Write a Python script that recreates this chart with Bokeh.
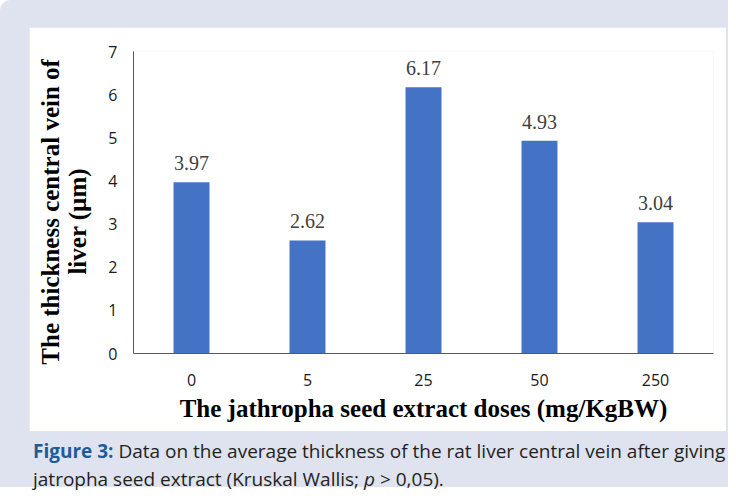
from bokeh.plotting import figure
from bokeh.models import ColumnDataSource, Range1d, FixedTicker, Div
from bokeh.layouts import column
from bokeh.core.properties import value
from bokeh.embed import file_html
from bokeh.resources import INLINE

doses = ["0", "5", "25", "50", "250"]
thickness = [3.97, 2.62, 6.17, 4.93, 3.04]
labels = ["3.97", "2.62", "6.17", "4.93", "3.04"]
y_ticks = [0, 1, 2, 3, 4, 5, 6, 7]

PANEL = "#dfe3ef"
BAR = "#4472c4"

src = ColumnDataSource(dict(dose=doses, val=thickness, lab=labels))

p = figure(x_range=doses, y_range=Range1d(0, 7), width=697, height=404,
           output_backend="svg", toolbar_location=None,
           min_border_left=104, min_border_right=13,
           min_border_top=24, min_border_bottom=78)
p.x_range.range_padding = 0
p.background_fill_color = "white"
p.border_fill_color = "white"
p.outline_line_color = None
p.xgrid.grid_line_color = None
p.ygrid.grid_line_color = None

p.vbar(x="dose", top="val", width=0.31, source=src, color=BAR, line_color=None)
p.text(x="dose", y="val", text="lab", source=src, y_offset=-19,
       text_align="center", text_baseline="alphabetic",
       text_font=value("Times New Roman"), text_font_size="20px",
       text_color="#404040")

for ax in (p.xaxis[0], p.yaxis[0]):
    ax.axis_line_color = "#595959"
    ax.major_tick_line_color = None
    ax.minor_tick_line_color = None
    ax.major_label_text_font = "Open Sans"
    ax.major_label_text_font_size = "16px"
    ax.major_label_text_color = "#1a1a1a"
    ax.axis_label_text_font = "Liberation Serif"
    ax.axis_label_text_font_style = "bold"
    ax.axis_label_text_font_size = "25px"
    ax.axis_label_text_color = "black"
    ax.axis_label_text_line_height = 1.0

p.yaxis.ticker = FixedTicker(ticks=y_ticks)
p.yaxis.major_label_standoff = 10
p.xaxis.major_label_standoff = 14
p.yaxis.axis_label = ("The thickness central vein of" + "\u00a0" * 3 + "\n"
                      + "liver (\u00b5m)" + "\u00a0" * 6)
p.xaxis.axis_label = "The jathropha seed extract doses (mg/KgBW)"
p.yaxis.axis_label_standoff = 14
p.xaxis.axis_label_standoff = 6
p.margin = (0, 0, 0, 0)

cap = Div(text='<span style="color:#1d5c9a;font-weight:bold">Figure 3:</span> '
               'Data on the average thickness of the rat liver central vein after giving<br>'
               'jatropha seed extract (Kruskal Wallis; <i>p</i> &gt; 0,05).',
          width=697, height=56, margin=(0, 0, 0, 0),
          styles={"font-family": "Open Sans", "font-size": "19px",
                  "line-height": "28px", "color": "#231f20", "white-space": "nowrap",
                  "padding-top": "6px", "padding-left": "4px"})

layout = column(p, cap, margin=(0, 0, 0, 0),
                styles={"background-color": PANEL, "border-top-left-radius": "10px",
                        "padding": "27px 2px 0px 29px"})

open("out.html", "w").write(file_html(layout, INLINE))
